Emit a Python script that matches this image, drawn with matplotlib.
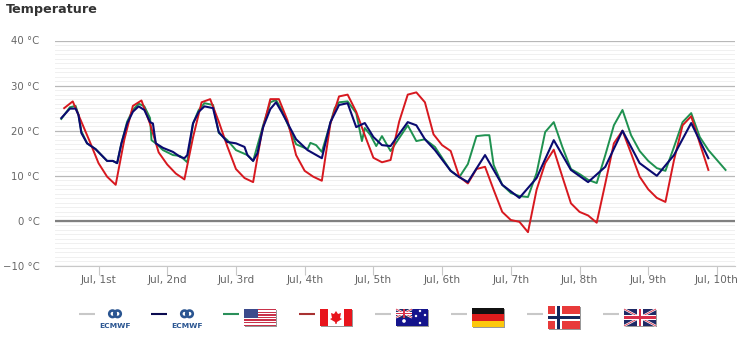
import matplotlib
matplotlib.use("Agg")
from matplotlib import pyplot as plt
from matplotlib.patches import Rectangle, Polygon, Ellipse
import numpy as np

plt.rc("font", family="DejaVu Sans")

# hours after Jul 1st 00:00
red_hours = list(range(-12, 214, 3))
red_temp = [25.0, 26.5, 22.0, 17.5, 12.8, 9.8, 8.0, 18.0, 25.5, 26.7, 21.5, 15.2, 12.5, 10.5, 9.2,
            18.5, 26.3, 27.0, 22.0, 16.5, 11.5, 9.5, 8.6, 19.5, 27.0, 27.0, 22.3, 14.6, 11.1, 9.8,
            8.9, 21.6, 27.6, 28.0, 24.2, 19.0, 14.0, 13.0, 13.5, 22.0, 28.0, 28.5, 26.3, 19.2, 16.8,
            15.5, 9.8, 8.3, 11.5, 12.0, 6.9, 2.0, 0.2, -0.2, -2.5, 6.9, 12.8, 15.8, 9.8, 3.9,
            2.0, 1.2, -0.4, 8.3, 17.2, 20.0, 15.0, 9.8, 7.0, 5.1, 4.2, 13.5, 21.2, 23.2, 17.2, 11.3]

blue_hours = [-13, -11, -10, -8, -7, -6, -4, -1, 1, 3, 5, 6.5, 8, 10, 12, 14, 16, 18, 19, 20, 22.5,
              26, 28.5, 30, 31, 33, 35, 37, 40, 42, 45, 48, 51, 52, 54, 55.5, 57.5, 60, 62, 64,
              69, 73, 78, 81, 84, 87, 90, 93, 96, 99, 102, 108, 111, 114, 117.5, 123, 126, 129,
              135, 141, 147, 153, 159, 165, 171, 177, 183, 189, 195, 201, 207, 213]
blue_temp = [22.8, 24.2, 24.9, 24.9, 23.5, 19.5, 17.2, 15.9, 14.6, 13.3, 13.3, 12.8, 17.2, 21.6,
             24.2, 25.4, 24.6, 21.9, 21.6, 17.2, 16.2, 15.3, 14.2, 13.9, 14.6, 21.6, 24.2, 25.4,
             25.0, 19.7, 17.5, 17.2, 16.4, 14.6, 13.3, 15.0, 20.8, 24.8, 26.3, 24.1, 18.1, 15.7,
             13.9, 21.9, 25.7, 26.1, 20.8, 21.7, 18.6, 16.8, 16.6, 21.9, 21.2, 18.1, 15.7, 11.1,
             9.7, 8.6, 14.6, 8.0, 5.1, 9.5, 17.9, 11.3, 8.6, 12.0, 20.0, 12.8, 10.0, 14.6, 21.7, 13.9]

green_hours = [-13, -10, -8, -7, -6, -4, -1, 1, 3, 5, 6.5, 8, 10, 12, 14, 16, 18, 18.5, 20, 22.5, 26,
               28.5, 31, 33, 35, 37, 40, 42, 45, 48, 52, 54, 57.5, 60, 62, 64, 69, 73, 74, 76, 78,
               81, 82.5, 84, 87, 90, 92, 93, 95, 97, 99, 102, 108, 111, 114, 117.5, 123, 126, 129,
               132, 135, 136.5, 138, 141, 144, 147, 150, 153, 156, 159, 162, 165, 168, 171, 174,
               177, 180, 183, 186, 189, 192, 195, 198, 201, 204, 207, 210, 213, 219]
green_temp = [22.6, 25.2, 25.5, 23.5, 19.9, 17.2, 15.9, 14.6, 13.3, 13.3, 12.8, 17.2, 22.0, 24.6,
              26.0, 25.4, 22.8, 17.9, 17.2, 15.7, 14.6, 14.4, 13.0, 21.6, 24.6, 26.1, 25.7, 19.5,
              17.9, 15.7, 14.6, 13.3, 21.2, 26.3, 26.8, 24.6, 17.0, 15.9, 17.3, 16.8, 15.3, 21.7,
              25.0, 26.3, 26.5, 23.9, 17.7, 20.6, 19.0, 16.6, 18.8, 15.5, 21.2, 17.7, 18.1, 16.4,
              11.1, 9.7, 12.6, 18.8, 19.0, 19.0, 12.4, 8.0, 6.2, 5.5, 5.3, 10.6, 19.7, 21.9, 16.4,
              11.5, 10.4, 9.1, 8.4, 14.6, 21.2, 24.6, 19.0, 15.5, 13.3, 11.7, 11.1, 16.4, 21.9,
              23.9, 18.6, 15.7, 11.3]

day_ticks = [0, 24, 48, 72, 96, 120, 144, 168, 192, 216]
day_labels = ["Jul, 1st", "Jul, 2nd", "Jul, 3rd", "Jul, 4th", "Jul, 5th",
              "Jul, 6th", "Jul, 7th", "Jul, 8th", "Jul, 9th", "Jul, 10th"]
temp_ticks = [-10, 0, 10, 20, 30, 40]
temp_labels = ["\u221210 \u00b0C", "0 \u00b0C", "10 \u00b0C", "20 \u00b0C", "30 \u00b0C", "40 \u00b0C"]

W, H = 741, 359
fig = plt.figure(figsize=(W / 100, H / 100), dpi=100)
ax = fig.add_axes([55 / W, 1 - 266 / H, 680 / W, 225.5 / H])
ax.set_xlim(-15.2, 222.3)
ax.set_ylim(-10, 40)

ax.set_yticks(temp_ticks)
ax.set_yticklabels(temp_labels, color="#666666", fontsize=7.3)
ax.set_yticks(np.arange(-10, 40, 1), minor=True)
ax.set_xticks(day_ticks)
ax.set_xticklabels(day_labels, color="#666666", fontsize=7.6)

ax.grid(which="minor", axis="y", color="#f0f0f0", lw=0.7)
ax.grid(which="major", axis="y", color="#b8b8b8", lw=0.9)
ax.tick_params(axis="y", which="both", length=0, pad=11)
ax.tick_params(axis="x", length=6.5, width=0.8, color="#c8c8c8", pad=0)
ax.set_axisbelow(True)
for s in ["top", "left", "right"]:
    ax.spines[s].set_visible(False)
ax.spines["bottom"].set_color("#c8c8c8")
ax.axhline(0, color="#808080", lw=1.6, zorder=1)

ax.plot(green_hours, green_temp, color="#1f9150", lw=1.4, zorder=3)
ax.plot(red_hours, red_temp, color="#d7181f", lw=1.4, zorder=4)
ax.plot(blue_hours, blue_temp, color="#0a0a70", lw=1.5, zorder=5)

fig.text(6 / W, 1 - 10 / H, "Temperature", fontsize=9.2, fontweight="bold", color="#333333",
         va="center", ha="left")

# legend, in pixel coordinates
leg = fig.add_axes([0, 0, 1, 1])
leg.set_xlim(0, W)
leg.set_ylim(H, 0)
leg.axis("off")
leg.patch.set_alpha(0)


def rect(x, y, w, h, c, z=2):
    leg.add_patch(Rectangle((x, y), w, h, fc=c, ec="none", zorder=z))


def flag_base(x, y, w, h, c):
    rect(x + 1, y + 1, w, h, "#999999", 1)
    rect(x, y, w, h, c)


def union(x, y, w, h):
    rect(x, y, w, h, "#1f2a66", 2)
    leg.plot([x, x + w], [y, y + h], color="white", lw=1.6, zorder=3, solid_capstyle="butt")
    leg.plot([x, x + w], [y + h, y], color="white", lw=1.6, zorder=3, solid_capstyle="butt")
    leg.plot([x, x + w], [y, y + h], color="#d8304a", lw=0.6, zorder=3, solid_capstyle="butt")
    leg.plot([x, x + w], [y + h, y], color="#d8304a", lw=0.6, zorder=3, solid_capstyle="butt")
    rect(x + w / 2 - h * 0.15, y, h * 0.3, h, "white", 4)
    rect(x, y + h * 0.35, w, h * 0.3, "white", 4)
    rect(x + w / 2 - h * 0.07, y, h * 0.14, h, "#d8304a", 5)
    rect(x, y + h * 0.43, w, h * 0.14, "#d8304a", 5)


def ecmwf(x):
    # logo
    leg.add_patch(Ellipse((x + 11.5, 313.8), 6.5, 6.5, fc="none", ec="#2a5591", lw=1.9, zorder=2))
    leg.add_patch(Ellipse((x + 16.5, 313.8), 6.5, 6.5, fc="none", ec="#2a5591", lw=1.9, zorder=2))
    rect(x + 12, 313.2, 4, 1.3, "#2a5591", 3)
    leg.text(x + 14, 325.5, "ECMWF", fontsize=5.4, fontweight="bold", color="#2a5591",
             ha="center", va="center")


line_x = [79, 151, 223, 299, 375, 451, 527, 603]
line_c = ["#c8c8c8", "#0b0b50", "#2a8f5a", "#a83232", "#c8c8c8", "#c8c8c8", "#c8c8c8", "#c8c8c8"]
for x, c in zip(line_x, line_c):
    leg.plot([x, x + 16], [314, 314], color=c, lw=1.5, solid_capstyle="butt")

ecmwf(101)
ecmwf(173)

# usa
flag_base(244, 309, 32, 17, "white")
for i in range(0, 7):
    rect(244, 309 + i * 2.6, 32, 1.3, "#c8324a")
rect(244, 309, 14, 9, "#3c4a8c", 3)
# canada
flag_base(320, 309, 32, 17, "white")
rect(320, 309, 8, 17, "#e8141c")
rect(344, 309, 8, 17, "#e8141c")
leg.add_patch(Polygon([(336, 311), (338, 314), (341, 313), (340, 318), (342, 319), (337, 322),
                       (336.5, 324), (335.5, 324), (335, 322), (330, 319), (332, 318), (331, 313),
                       (334, 314)], fc="#e8141c", ec="none", zorder=3))
# australia
flag_base(396, 309, 32, 17, "#14148c")
union(396, 309, 16, 8.5)
leg.scatter([404, 420, 425, 416, 420], [321, 311, 315, 316, 323], s=[7, 3, 3, 3, 3], c="white",
            linewidths=0, zorder=6)
# germany
flag_base(472, 308, 32, 19, "#111111")
rect(472, 314.3, 32, 6.4, "#dd1c1c")
rect(472, 320.7, 32, 6.3, "#fcc80c")
# norway
flag_base(548, 306, 32, 23, "#e83a3a")
rect(555, 306, 7, 23, "white")
rect(548, 314, 32, 7, "white")
rect(557, 306, 3, 23, "#14285c", 3)
rect(548, 316, 32, 3, "#14285c", 3)
# uk
rect(625, 310, 32, 17, "#999999", 1)
union(624, 309, 32, 17)

fig.savefig("out.png", dpi=100)
